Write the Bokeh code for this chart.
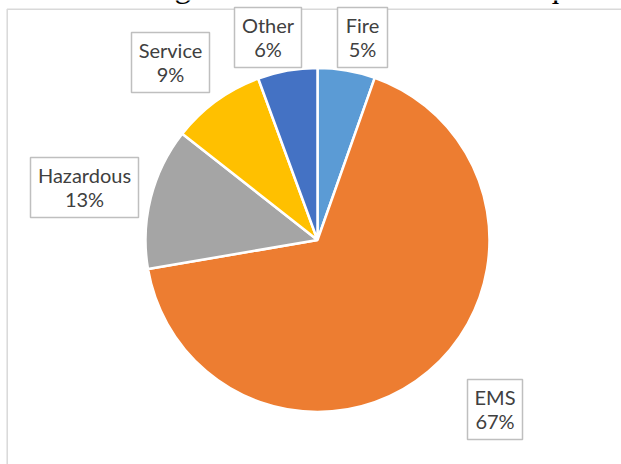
import numpy as np
from bokeh.plotting import figure
from bokeh.models import Range1d, ColumnDataSource
from bokeh.embed import file_html
from bokeh.resources import INLINE
from bokeh.core.properties import value

# ---- data ----
categories = ["Fire", "EMS", "Hazardous", "Service", "Other"]
shares = [5.4, 66.9, 13.3, 8.8, 5.6]
pct_labels = ["5%", "67%", "13%", "9%", "6%"]
colors = ["#5B9BD5", "#ED7D31", "#A5A5A5", "#FFC000", "#4472C4"]
caption = "The following is the breakdown of the requests"

# ---- layout (image pixel coords, y downward) ----
W, H = 621, 464
CX, CY, R = 317.0, 239.5, 172.0
box_left = [337, 467, 30, 131, 234]
box_top = [7, 379, 157, 32, 7]
box_w = [50, 55, 108, 78, 67]
BOX_H = 60
LBL_SIZE = 20
SHIFT = 0.4  # empirical baseline correction (em)

def Y(v):
    return H - np.asarray(v, dtype=float)

p = figure(width=W, height=H, output_backend="svg", toolbar_location=None,
           x_range=Range1d(0, W), y_range=Range1d(0, H), min_border=0,
           x_axis_location=None, y_axis_location=None)
p.grid.visible = False
p.outline_line_color = None
p.background_fill_color = "white"
p.border_fill_color = "white"
p.styles = {"position": "absolute", "top": "0px", "left": "0px"}

# chart area border
p.quad(left=[6.7], right=[W + 50], top=[H - 8.7], bottom=[-50],
       fill_color=None, line_color="#D9D9D9", line_width=1.5)

# caption (mostly cut off above, as in the source)
p.text(x=[2.5], y=[H + 1.0 + SHIFT * 33], text=[caption],
       text_font=value("Liberation Serif"), text_font_size="33px",
       text_color="black", text_align="left", text_baseline="alphabetic")

# pie
frac = np.array(shares) / np.sum(shares)
cum = np.cumsum(frac)
start = np.pi / 2 - 2 * np.pi * (cum - frac)
end = np.pi / 2 - 2 * np.pi * cum
src = ColumnDataSource(dict(start=start, end=end, color=colors, cat=categories))
p.wedge(x=CX, y=H - CY, radius=R, start_angle="start", end_angle="end",
        direction="clock", fill_color="color", line_color="white",
        line_width=2.5, source=src)

# labels
bl = np.array(box_left, dtype=float)
bt = np.array(box_top, dtype=float)
bw = np.array(box_w, dtype=float)
cxs = bl + bw / 2
p.rect(x=cxs, y=Y(bt + BOX_H / 2), width=bw, height=BOX_H,
       fill_color="white", line_color="#BFBFBF", line_width=1.5)
off = SHIFT * LBL_SIZE
p.text(x=cxs, y=Y(bt + 25.7 - off), text=categories, text_font=value("Lato"),
       text_font_size=f"{LBL_SIZE}px", text_color="#404040", text_align="center",
       text_baseline="alphabetic")
p.text(x=cxs, y=Y(bt + 49.7 - off), text=pct_labels, text_font=value("Lato"),
       text_font_size=f"{LBL_SIZE}px", text_color="#404040", text_align="center",
       text_baseline="alphabetic")

open("out.html", "w").write(file_html(p, INLINE))
